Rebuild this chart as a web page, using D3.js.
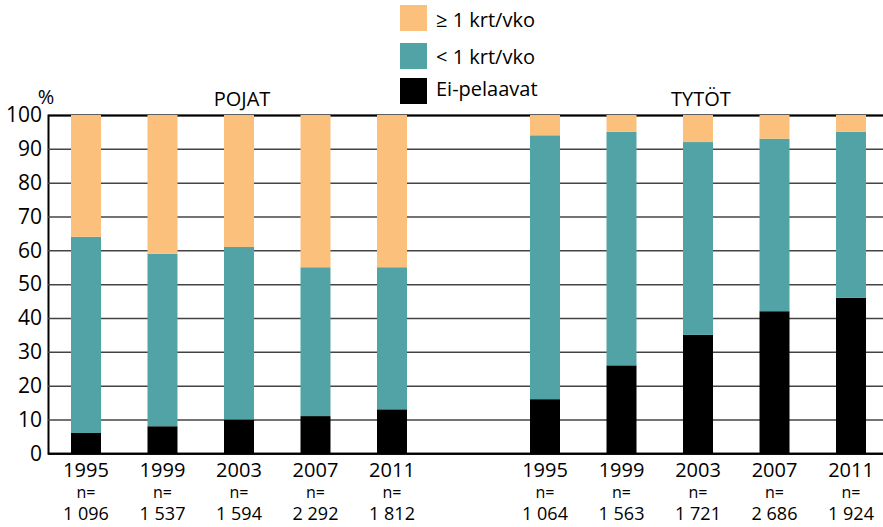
<!DOCTYPE html>
<html>
<head>
<meta charset="utf-8">
<script src="https://cdn.jsdelivr.net/npm/d3@7"></script>
<style>
  body { margin: 0; background: #fff; }
  text { font-family: "Open Sans", sans-serif; fill: #000; }
</style>
</head>
<body>
<div id="chart"></div>
<script>
// data (%)
const years = ["1995", "1999", "2003", "2007", "2011"];
const groups = ["POJAT", "TYTÖT"];
const boysN = ["1 096", "1 537", "1 594", "2 292", "1 812"];
const girlsN = ["1 064", "1 563", "1 721", "2 686", "1 924"];

const boysEi = [6, 8, 10, 11, 13];
const boysLt1 = [58, 51, 51, 44, 42];
const boysGe1 = [36, 41, 39, 45, 45];

const girlsEi = [16, 26, 35, 42, 46];
const girlsLt1 = [78, 69, 57, 51, 49];
const girlsGe1 = [6, 5, 8, 7, 5];

const seriesKeys = ["ei", "lt1", "ge1"];
const seriesLabels = ["Ei-pelaavat", "< 1 krt/vko", "≥ 1 krt/vko"];
const colors = ["#000000", "#51a3a5", "#fbc07c"];
const yTicks = [0, 10, 20, 30, 40, 50, 60, 70, 80, 90, 100];

const width = 883, height = 527;

const svg = d3.select("#chart")
    .append("svg")
    .attr("width", width)
    .attr("height", height);

// rows for stacking
const rows = [];
years.forEach(function (yr, i) {
    rows.push({ key: "P" + yr, group: 0, year: yr, n: boysN[i], ei: boysEi[i], lt1: boysLt1[i], ge1: boysGe1[i] });
});
years.forEach(function (yr, i) {
    rows.push({ key: "T" + yr, group: 1, year: yr, n: girlsN[i], ei: girlsEi[i], lt1: girlsLt1[i], ge1: girlsGe1[i] });
});

// one empty slot between the two groups
const domain = rows.filter(d => d.group == 0).map(d => d.key)
    .concat(["gap"])
    .concat(rows.filter(d => d.group == 1).map(d => d.key));

const x = d3.scaleBand()
    .domain(domain)
    .range([71, 866])
    .paddingInner(0.608)
    .paddingOuter(0);

const y = d3.scaleLinear()
    .domain([0, 100])
    .range([453.3, 115]);

const color = d3.scaleOrdinal().domain(seriesKeys).range(colors);

// y axis + grid
const yAxis = svg.append("g")
    .attr("transform", "translate(48,0)")
    .call(d3.axisLeft(y)
        .tickValues(yTicks)
        .tickSize(-(width - 48))
        .tickPadding(6));

yAxis.select(".domain").attr("stroke", "#000").attr("stroke-width", 2);
yAxis.selectAll(".tick line")
    .attr("stroke", function (d) { return (d == 0 || d == 100) ? "#000" : "#444"; })
    .attr("stroke-width", function (d) { return d == 0 ? 2 : 1.5; });
yAxis.selectAll(".tick text")
    .attr("font-size", "21px")
    .attr("font-family", "Open Sans, sans-serif")
    .attr("fill", "#000");

svg.append("text")
    .attr("x", 46)
    .attr("y", 104)
    .attr("text-anchor", "middle")
    .attr("font-size", "20px")
    .text("%");

// stacked bars
const stacked = d3.stack().keys(seriesKeys)(rows);

svg.append("g")
    .selectAll("g")
    .data(stacked)
    .join("g")
    .attr("fill", d => color(d.key))
    .selectAll("rect")
    .data(d => d)
    .join("rect")
    .attr("x", d => x(d.data.key))
    .attr("y", d => y(d[1]))
    .attr("width", x.bandwidth())
    .attr("height", d => y(d[0]) - y(d[1]));

// x labels
const lab = svg.append("g")
    .selectAll("g")
    .data(rows)
    .join("g")
    .attr("transform", d => `translate(${x(d.key) + x.bandwidth() / 2},0)`);

lab.append("text")
    .attr("y", 477)
    .attr("text-anchor", "middle")
    .attr("font-size", "20px")
    .text(d => d.year);

lab.append("text")
    .attr("y", 498)
    .attr("text-anchor", "middle")
    .attr("font-size", "16px")
    .text("n=");

lab.append("text")
    .attr("y", 520)
    .attr("text-anchor", "middle")
    .attr("font-size", "18px")
    .text(d => d.n);

// group titles
groups.forEach(function (g, gi) {
    const keys = rows.filter(d => d.group == gi).map(d => d.key);
    const cx = (x(keys[0]) + x(keys[keys.length - 1]) + x.bandwidth()) / 2;
    svg.append("text")
        .attr("x", cx + 3)
        .attr("y", 106)
        .attr("text-anchor", "middle")
        .attr("font-size", "20px")
        .text(g);
});

// legend (top to bottom: ge1, lt1, ei)
const legendOrder = [2, 1, 0];
const legendSq = [5, 43, 78];
const legendBase = [27, 63.5, 96];
const legend = svg.append("g")
    .selectAll("g")
    .data(legendOrder)
    .join("g");

legend.append("rect")
    .attr("x", 400)
    .attr("y", (d, i) => legendSq[i])
    .attr("width", 27)
    .attr("height", 26)
    .attr("fill", d => colors[d]);

legend.append("text")
    .attr("x", 436)
    .attr("y", (d, i) => legendBase[i])
    .attr("font-size", "20px")
    .text(d => seriesLabels[d]);
</script>
</body>
</html>
